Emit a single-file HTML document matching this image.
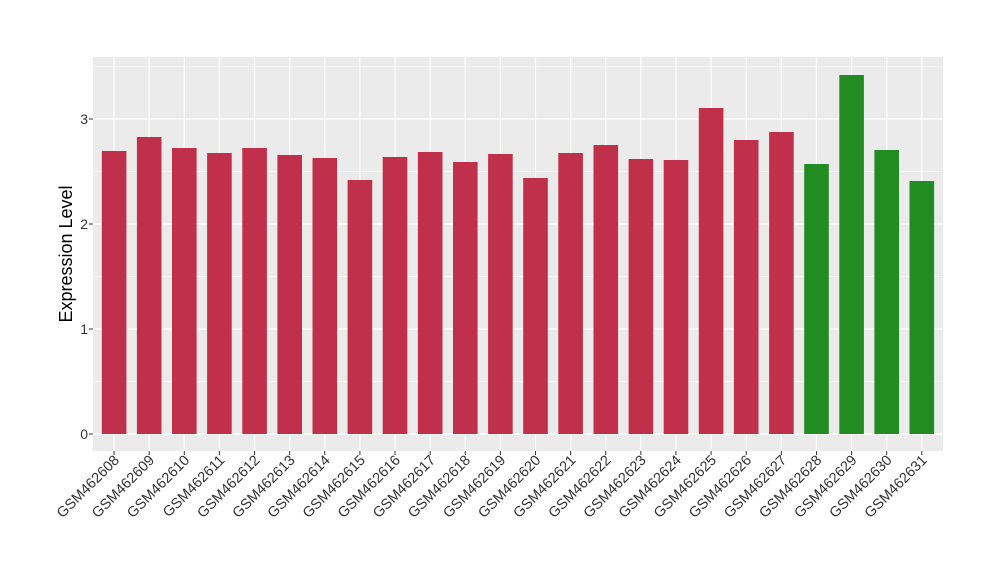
<!DOCTYPE html>
<html><head><meta charset="utf-8"><style>body{margin:0;background:#fff}svg{display:block}</style></head><body>
<svg width="1000" height="580" xmlns="http://www.w3.org/2000/svg" font-family="Liberation Sans, sans-serif">
<rect width="1000" height="580" fill="#fff"/>
<rect x="93" y="57" width="850" height="394" fill="#EBEBEB"/>
<g stroke="#fff">
<g stroke-width="0.6"><line x1="93" x2="943" y1="381.5" y2="381.5"/><line x1="93" x2="943" y1="276.5" y2="276.5"/><line x1="93" x2="943" y1="171.5" y2="171.5"/><line x1="93" x2="943" y1="66.5" y2="66.5"/></g>
<g stroke-width="1.2"><line x1="93" x2="943" y1="434" y2="434"/><line x1="93" x2="943" y1="329" y2="329"/><line x1="93" x2="943" y1="224" y2="224"/><line x1="93" x2="943" y1="119" y2="119"/>
<path d="M114.07 57V451M149.19 57V451M184.31 57V451M219.43 57V451M254.55 57V451M289.67 57V451M324.79 57V451M359.91 57V451M395.03 57V451M430.15 57V451M465.27 57V451M500.39 57V451M535.51 57V451M570.63 57V451M605.75 57V451M640.87 57V451M675.99 57V451M711.11 57V451M746.23 57V451M781.35 57V451M816.47 57V451M851.59 57V451M886.71 57V451M921.83 57V451"/>
</g></g>
<g fill="#C0304A">
<rect x="101.8" y="151" width="24.6" height="283"/>
<rect x="136.9" y="137" width="24.6" height="297"/>
<rect x="172.0" y="148" width="24.6" height="286"/>
<rect x="207.1" y="153" width="24.6" height="281"/>
<rect x="242.3" y="148" width="24.6" height="286"/>
<rect x="277.4" y="155" width="24.6" height="279"/>
<rect x="312.5" y="158" width="24.6" height="276"/>
<rect x="347.6" y="180" width="24.6" height="254"/>
<rect x="382.7" y="157" width="24.6" height="277"/>
<rect x="417.9" y="152" width="24.6" height="282"/>
<rect x="453.0" y="162" width="24.6" height="272"/>
<rect x="488.1" y="154" width="24.6" height="280"/>
<rect x="523.2" y="178" width="24.6" height="256"/>
<rect x="558.3" y="153" width="24.6" height="281"/>
<rect x="593.5" y="145" width="24.6" height="289"/>
<rect x="628.6" y="159" width="24.6" height="275"/>
<rect x="663.7" y="160" width="24.6" height="274"/>
<rect x="698.8" y="108" width="24.6" height="326"/>
<rect x="733.9" y="140" width="24.6" height="294"/>
<rect x="769.1" y="132" width="24.6" height="302"/>
</g>
<g fill="#228B22">
<rect x="804.2" y="164" width="24.6" height="270"/>
<rect x="839.3" y="75" width="24.6" height="359"/>
<rect x="874.4" y="150" width="24.6" height="284"/>
<rect x="909.5" y="181" width="24.6" height="253"/>
</g>
<g font-size="14" fill="#333" text-anchor="end">
<text x="88" y="439">0</text><text x="88" y="334">1</text><text x="88" y="229">2</text><text x="88" y="124">3</text>
</g>
<g stroke="#333"><line x1="89" x2="93" y1="434" y2="434"/><line x1="89" x2="93" y1="329" y2="329"/><line x1="89" x2="93" y1="224" y2="224"/><line x1="89" x2="93" y1="119" y2="119"/>
<path d="M114.07 451V455M149.19 451V455M184.31 451V455M219.43 451V455M254.55 451V455M289.67 451V455M324.79 451V455M359.91 451V455M395.03 451V455M430.15 451V455M465.27 451V455M500.39 451V455M535.51 451V455M570.63 451V455M605.75 451V455M640.87 451V455M675.99 451V455M711.11 451V455M746.23 451V455M781.35 451V455M816.47 451V455M851.59 451V455M886.71 451V455M921.83 451V455"/></g>
<text transform="translate(72,254) rotate(-90)" font-size="18" text-anchor="middle" fill="#000">Expression Level</text>
<g font-size="14.5" fill="#333" text-anchor="end">
<text transform="translate(120.07,461) rotate(-45)">GSM462608</text>
<text transform="translate(155.19,461) rotate(-45)">GSM462609</text>
<text transform="translate(190.31,461) rotate(-45)">GSM462610</text>
<text transform="translate(225.43,461) rotate(-45)">GSM462611</text>
<text transform="translate(260.55,461) rotate(-45)">GSM462612</text>
<text transform="translate(295.67,461) rotate(-45)">GSM462613</text>
<text transform="translate(330.79,461) rotate(-45)">GSM462614</text>
<text transform="translate(365.91,461) rotate(-45)">GSM462615</text>
<text transform="translate(401.03,461) rotate(-45)">GSM462616</text>
<text transform="translate(436.15,461) rotate(-45)">GSM462617</text>
<text transform="translate(471.27,461) rotate(-45)">GSM462618</text>
<text transform="translate(506.39,461) rotate(-45)">GSM462619</text>
<text transform="translate(541.51,461) rotate(-45)">GSM462620</text>
<text transform="translate(576.63,461) rotate(-45)">GSM462621</text>
<text transform="translate(611.75,461) rotate(-45)">GSM462622</text>
<text transform="translate(646.87,461) rotate(-45)">GSM462623</text>
<text transform="translate(681.99,461) rotate(-45)">GSM462624</text>
<text transform="translate(717.11,461) rotate(-45)">GSM462625</text>
<text transform="translate(752.23,461) rotate(-45)">GSM462626</text>
<text transform="translate(787.35,461) rotate(-45)">GSM462627</text>
<text transform="translate(822.47,461) rotate(-45)">GSM462628</text>
<text transform="translate(857.59,461) rotate(-45)">GSM462629</text>
<text transform="translate(892.71,461) rotate(-45)">GSM462630</text>
<text transform="translate(927.83,461) rotate(-45)">GSM462631</text>
</g>
</svg>
</body></html>
